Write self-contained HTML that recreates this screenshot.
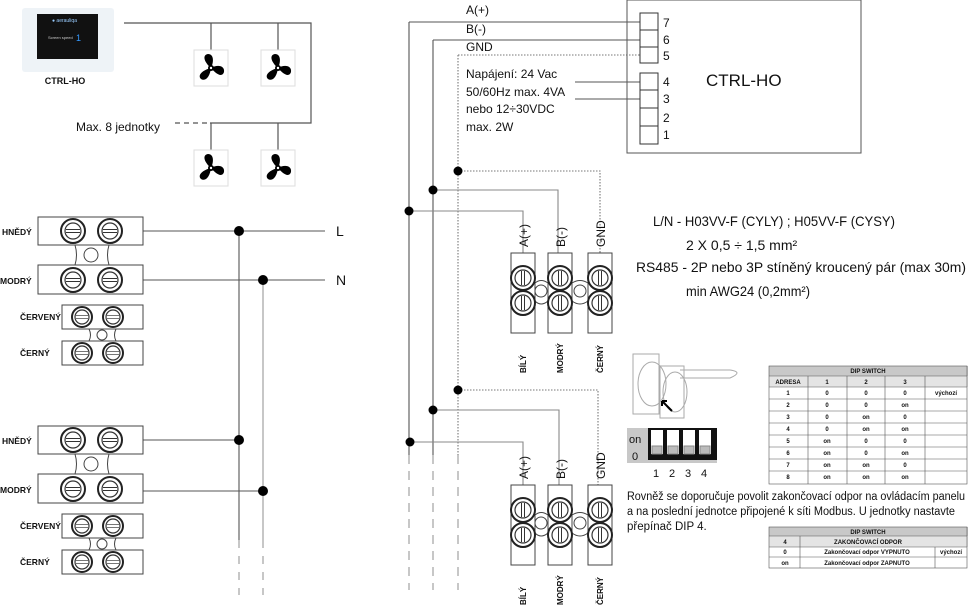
<!DOCTYPE html>
<html><head><meta charset="utf-8"><style>
html,body{margin:0;padding:0;background:#fff;width:968px;height:607px;overflow:hidden}
svg{display:block}
text{font-family:"Liberation Sans",sans-serif;fill:#111}
.c{font-size:9px}
.t{font-size:6px}
</style></head><body>
<svg width="968" height="607" viewBox="0 0 968 607" xmlns="http://www.w3.org/2000/svg">
<defs>
<g id="sh"><circle r="12" fill="#fff" stroke="#222" stroke-width="2"/><circle r="8" fill="#fff" stroke="#333" stroke-width="1.2"/><line x1="-7" y1="-1.5" x2="7" y2="-1.5" stroke="#333"/><line x1="-7" y1="1.5" x2="7" y2="1.5" stroke="#333"/></g>
<g id="ss"><circle r="10" fill="#fff" stroke="#222" stroke-width="2"/><circle r="7" fill="#fff" stroke="#333" stroke-width="1.2"/><line x1="-6" y1="-1.5" x2="6" y2="-1.5" stroke="#777"/><line x1="-6" y1="1.5" x2="6" y2="1.5" stroke="#777"/></g>
<g id="sv"><circle r="12" fill="#fff" stroke="#222" stroke-width="2"/><circle r="8" fill="#fff" stroke="#333" stroke-width="1.2"/><line y1="-7" x1="-1.5" y2="7" x2="-1.5" stroke="#333"/><line y1="-7" x1="1.5" y2="7" x2="1.5" stroke="#333"/></g>
<g id="fan"><rect x="0" y="0" width="34" height="36" fill="#fff" stroke="#ddd"/>
<path d="M17 18 C10 12 8 5 14 4 C20 4 20 12 17 18 Z M17 18 C24 14 31 16 30 22 C28 28 22 24 17 18 Z M17 18 C16 26 12 32 7 29 C3 25 9 20 17 18 Z" fill="#000"/><circle cx="17" cy="18" r="3" fill="#000"/><circle cx="17" cy="18" r="1.2" fill="#fff"/></g>
<g id="pw">
<rect x="38" y="0" width="105" height="28" fill="#fff" stroke="#444"/>
<rect x="38" y="48" width="105" height="29" fill="#fff" stroke="#444"/>
<path d="M75 28 Q78 38 75 48 M109 28 Q106 38 109 48" stroke="#444" fill="none"/>
<circle cx="91" cy="38" r="7" fill="#fff" stroke="#444"/>
<use href="#sh" x="73" y="14"/><use href="#sh" x="110" y="14"/>
<use href="#sh" x="73" y="63"/><use href="#sh" x="110" y="63"/>
<rect x="62" y="88" width="81" height="24" fill="#fff" stroke="#444"/>
<rect x="62" y="124" width="81" height="24" fill="#fff" stroke="#444"/>
<path d="M89 112 Q92 118 89 124 M116 112 Q113 118 116 124" stroke="#444" fill="none"/>
<circle cx="102" cy="118" r="5" fill="#fff" stroke="#444"/>
<use href="#ss" x="82" y="100"/><use href="#ss" x="113" y="100"/>
<use href="#ss" x="82" y="136"/><use href="#ss" x="113" y="136"/>
<text x="2" y="18" style="font-size:8.5px;font-weight:bold">HNĚDÝ</text>
<text x="0" y="67" style="font-size:8.5px;font-weight:bold">MODRÝ</text>
<text x="20" y="103" style="font-size:8.5px;font-weight:bold">ČERVENÝ</text>
<text x="20" y="139" style="font-size:8.5px;font-weight:bold">ČERNÝ</text>
</g>
<g id="rt">
<rect x="0" y="0" width="24" height="80" fill="#fff" stroke="#444"/>
<rect x="37" y="0" width="24" height="80" fill="#fff" stroke="#444"/>
<rect x="77" y="0" width="24" height="80" fill="#fff" stroke="#444"/>
<path d="M24 30 Q30 25 37 30 M24 48 Q30 54 37 48 M61 30 Q69 25 77 30 M61 48 Q69 54 77 48" stroke="#444" fill="none"/>
<circle cx="30" cy="38" r="6" fill="#fff" stroke="#444"/><circle cx="69" cy="38" r="6" fill="#fff" stroke="#444"/>
<use href="#sv" x="12" y="25"/><use href="#sv" x="49" y="25"/><use href="#sv" x="89" y="25"/>
<use href="#sv" x="12" y="50"/><use href="#sv" x="49" y="50"/><use href="#sv" x="89" y="50"/>
<text transform="translate(17,-6) rotate(-90)" style="font-size:12px">A(+)</text>
<text transform="translate(54,-6) rotate(-90)" style="font-size:12px">B(-)</text>
<text transform="translate(94,-6) rotate(-90)" style="font-size:12px">GND</text>
<text transform="translate(15,120) rotate(-90)" style="font-size:8px;font-weight:bold">BÍLÝ</text>
<text transform="translate(52,120) rotate(-90)" style="font-size:8px;font-weight:bold">MODRÝ</text>
<text transform="translate(92,120) rotate(-90)" style="font-size:8px;font-weight:bold">ČERNÝ</text>
</g>
</defs>

<rect x="22" y="8" width="92" height="64" rx="3" fill="#eef3f7"/>
<rect x="37" y="14" width="61" height="45" fill="#111"/>
<text x="52" y="22" style="font-size:5px;fill:#9cf">● aerauliqa</text>
<text x="48" y="39" style="font-size:4px;fill:#ccc">Screen speed</text>
<text x="76" y="41" style="font-size:9px;fill:#39f">1</text>
<text x="65" y="84" style="font-size:9px;font-weight:bold" text-anchor="middle">CTRL-HO</text>

<g stroke="#555" fill="none" stroke-width="1.2">
<path d="M124 23 H311 V123 H210"/>
<path d="M211 23 V50 M278 23 V50 M211 123 V150 M278 123 V150"/>
<path d="M175 123 H210" stroke-dasharray="5,4"/>
</g>
<use href="#fan" x="194" y="50"/><use href="#fan" x="261" y="50"/>
<use href="#fan" x="194" y="150"/><use href="#fan" x="261" y="150"/>
<text x="76" y="131" style="font-size:12px">Max. 8 jednotky</text>

<g stroke="#555" stroke-width="1.1" fill="none">
<path d="M143 231 H325 M143 280 H325 M143 440 H239 M143 491 H263"/>
<path d="M239 231 V540"/><path d="M263 280 V540" stroke="#999"/>
<path d="M239 540 V595 M263 540 V595" stroke-dasharray="8,8" stroke="#999"/>
</g>
<circle cx="239" cy="231" r="5"/><circle cx="263" cy="280" r="5"/>
<circle cx="239" cy="440" r="5"/><circle cx="263" cy="491" r="5"/>
<text x="336" y="236" style="font-size:14px">L</text>
<text x="336" y="285" style="font-size:14px">N</text>
<use href="#pw" x="0" y="217"/>
<use href="#pw" x="0" y="426"/>

<g fill="none" stroke-width="1.1">
<path d="M409 22 H640 M409 22 V455" stroke="#555"/>
<path d="M433 40 H640 M433 40 V455" stroke="#555"/>
<path d="M458 55 H640 M458 55 V455 M458 171 H600 V253 M458 390 H598 V485" stroke="#777" stroke-dasharray="1.5,1.5"/>
<path d="M433 190 H558 V253 M409 211 H523 V253 M433 410 H559 V485 M409 442 H523 V485" stroke="#888"/>
<path d="M409 455 V590 M433 455 V590 M458 455 V590" stroke="#999" stroke-dasharray="9,7"/>
<path d="M575 82 H640 M575 99 H640" stroke="#555"/>
</g>
<circle cx="458" cy="171" r="4.5"/><circle cx="433" cy="190" r="4.5"/><circle cx="409" cy="211" r="4.5"/>
<circle cx="458" cy="390" r="4.5"/><circle cx="433" cy="410" r="4.5"/><circle cx="410" cy="442" r="4.5"/>
<text x="466" y="14" style="font-size:12px">A(+)</text>
<text x="466" y="33" style="font-size:12px">B(-)</text>
<text x="466" y="51" style="font-size:12px">GND</text>
<text x="466" y="78" style="font-size:12px">Napájení: 24 Vac</text>
<text x="466" y="96" style="font-size:12px">50/60Hz max. 4VA</text>
<text x="466" y="113" style="font-size:12px">nebo 12÷30VDC</text>
<text x="466" y="131" style="font-size:12px">max. 2W</text>

<use href="#rt" x="511" y="253"/>
<use href="#rt" x="511" y="485"/>

<rect x="627" y="0" width="234" height="153" fill="none" stroke="#555"/>
<g fill="#fff" stroke="#333">
<rect x="640" y="13" width="18" height="17"/><rect x="640" y="30" width="18" height="17"/><rect x="640" y="47" width="18" height="16"/>
<rect x="640" y="73" width="18" height="17"/><rect x="640" y="90" width="18" height="18"/><rect x="640" y="108" width="18" height="18"/><rect x="640" y="126" width="18" height="18"/>
</g>
<g style="font-size:12px"><text x="663" y="27">7</text><text x="663" y="44">6</text><text x="663" y="60">5</text><text x="663" y="86">4</text><text x="663" y="103">3</text><text x="663" y="122">2</text><text x="663" y="139">1</text></g>
<text x="706" y="86" style="font-size:17px">CTRL-HO</text>

<text x="653" y="226" style="font-size:14px" textLength="242" lengthAdjust="spacingAndGlyphs">L/N - H03VV-F (CYLY) ; H05VV-F (CYSY)</text>
<text x="686" y="250" style="font-size:14px">2  X 0,5 ÷ 1,5 mm²</text>
<text x="636" y="272" style="font-size:14px" textLength="330" lengthAdjust="spacingAndGlyphs">RS485 - 2P nebo 3P stíněný kroucený pár (max 30m)</text>
<text x="686" y="296" style="font-size:14px" textLength="124" lengthAdjust="spacingAndGlyphs">min AWG24 (0,2mm²)</text>

<g stroke="#aaa" fill="none">
<rect x="633" y="354" width="26" height="60"/><ellipse cx="652" cy="384" rx="14" ry="22"/>
<rect x="660" y="366" width="24" height="52"/><ellipse cx="675" cy="392" rx="12" ry="20"/>
<path d="M680 370 H730 Q744 372 730 378 H680"/>
</g>
<path d="M672 411 L662 401 M662 401 L662 406 M662 401 L667 401" stroke="#000" stroke-width="2" fill="none"/>
<rect x="627" y="428" width="90" height="35" fill="#c8c8c8"/>
<rect x="648" y="428" width="69" height="32" fill="#111"/>
<g fill="#fff"><rect x="651" y="430" width="12" height="24"/><rect x="667" y="430" width="12" height="24"/><rect x="683" y="430" width="12" height="24"/><rect x="699" y="430" width="12" height="24"/></g>
<g fill="#bbb" stroke="#888"><rect x="652" y="446" width="10" height="8"/><rect x="668" y="446" width="10" height="8"/><rect x="684" y="446" width="10" height="8"/><rect x="700" y="446" width="10" height="8"/></g>
<text x="629" y="443" style="font-size:11px">on</text><text x="632" y="460" style="font-size:11px">0</text>
<g style="font-size:11px"><text x="653" y="477">1</text><text x="669" y="477">2</text><text x="685" y="477">3</text><text x="701" y="477">4</text></g>

<!-- Table 1 -->
<rect x="769" y="366" width="199" height="10" fill="#c8c8c8"/>
<rect x="769" y="376" width="199" height="11" fill="#e4e4e4"/>
<g stroke="#555" stroke-width="0.6" fill="none">
<rect x="769" y="366" width="198" height="118"/>
<path d="M769 376 H967 M769 387 H967 M769 399 H967 M769 411 H967 M769 423 H967 M769 435 H967 M769 447 H967 M769 459 H967 M769 471 H967"/>
<path d="M808 376 V484 M847 376 V484 M885 376 V484 M925 376 V484"/>
</g>
<g class="t" text-anchor="middle" style="font-weight:bold">
<text x="868" y="373">DIP SWITCH</text>
<text x="788" y="384">ADRESA</text><text x="827" y="384">1</text><text x="866" y="384">2</text><text x="905" y="384">3</text>
<text x="788" y="395">1</text><text x="827" y="395">0</text><text x="866" y="395">0</text><text x="905" y="395">0</text><text x="946" y="395">výchozí</text>
<text x="788" y="407">2</text><text x="827" y="407">0</text><text x="866" y="407">0</text><text x="905" y="407">on</text>
<text x="788" y="419">3</text><text x="827" y="419">0</text><text x="866" y="419">on</text><text x="905" y="419">0</text>
<text x="788" y="431">4</text><text x="827" y="431">0</text><text x="866" y="431">on</text><text x="905" y="431">on</text>
<text x="788" y="443">5</text><text x="827" y="443">on</text><text x="866" y="443">0</text><text x="905" y="443">0</text>
<text x="788" y="455">6</text><text x="827" y="455">on</text><text x="866" y="455">0</text><text x="905" y="455">on</text>
<text x="788" y="467">7</text><text x="827" y="467">on</text><text x="866" y="467">on</text><text x="905" y="467">0</text>
<text x="788" y="479">8</text><text x="827" y="479">on</text><text x="866" y="479">on</text><text x="905" y="479">on</text>
</g>

<text x="627" y="500" style="font-size:11.5px" textLength="338" lengthAdjust="spacingAndGlyphs">Rovněž se doporučuje povolit zakončovací odpor na ovládacím panelu</text>
<text x="627" y="515" style="font-size:11.5px" textLength="328" lengthAdjust="spacingAndGlyphs">a na poslední jednotce připojené k síti Modbus. U jednotky nastavte</text>
<text x="627" y="530" style="font-size:11.5px">přepínač DIP 4.</text>

<!-- Table 2 -->
<rect x="769" y="527" width="199" height="9" fill="#c8c8c8"/>
<rect x="769" y="536" width="199" height="11" fill="#e4e4e4"/>
<g stroke="#555" stroke-width="0.6" fill="none">
<rect x="769" y="527" width="198" height="41"/>
<path d="M769 536 H967 M769 547 H967 M769 557 H967"/>
<path d="M800 536 V568 M935 547 V568"/>
</g>
<g class="t" text-anchor="middle" style="font-weight:bold">
<text x="868" y="534">DIP SWITCH</text>
<text x="785" y="544">4</text><text x="868" y="544">ZAKONČOVACÍ ODPOR</text>
<text x="785" y="554">0</text><text x="867" y="554">Zakončovací odpor VYPNUTO</text><text x="951" y="554">výchozí</text>
<text x="785" y="565">on</text><text x="867" y="565">Zakončovací odpor ZAPNUTO</text>
</g>
</svg>
</body></html>
